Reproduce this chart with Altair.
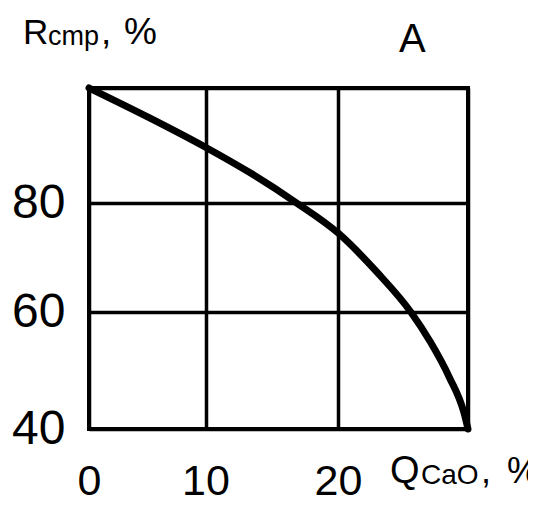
import altair as alt
import pandas as pd

# data
q_cao = [0, 5.2, 10, 13.4, 16.75, 20, 23, 25.6, 27.1, 28.55, 29.7, 30]
r_cmp = [100, 94.8, 89.7, 85.2, 80.2, 74.5, 67.3, 60, 54.9, 48.9, 42.7, 40]
x_ticks = [0, 10, 20, 30]
y_ticks = [40, 60, 80, 100]

y_title_main, y_title_sub = "R", "cmp"
x_title_main, x_title_sub = "Q", "CaO"
comma, percent = ",", "%"
panel_label = "A"

df = pd.DataFrame({"q": q_cao, "r": r_cmp})

FONT = "Liberation Sans"
W, H = 379, 341

x_scale = alt.Scale(domain=x_ticks, range=[0, 116.5, 249, W])
y_scale = alt.Scale(domain=y_ticks, range=[H, 224, 115, 0])

x_axis = alt.Axis(values=x_ticks, title=None, grid=True, gridColor="black",
                  gridWidth=3.5, gridOpacity=1, domain=False, ticks=False,
                  labelFontSize=43, labelFont=FONT, labelColor="black",
                  labelPadding=31, labelFlush=False, labelOverlap=False,
                  labelExpr="datum.value == 30 ? '' : datum.label")
y_axis = alt.Axis(values=y_ticks, title=None, grid=True, gridColor="black",
                  gridWidth=3.5, gridOpacity=1, domain=False, ticks=False,
                  labelFontSize=48, labelFont=FONT, labelColor="black",
                  labelPadding=24, labelFlush=False, labelOverlap=False,
                  labelBaseline="middle",
                  labelExpr="datum.value == 100 ? '' : datum.label")

line = alt.Chart(df).mark_line(color="black", strokeWidth=7,
                               interpolate="monotone", strokeCap="round").encode(
    x=alt.X("q:Q", scale=x_scale, axis=x_axis),
    y=alt.Y("r:Q", scale=y_scale, axis=y_axis),
)


def txt(s, x, y, size):
    return alt.Chart(alt.Data(values=[{}])).mark_text(
        text=s, font=FONT, fontSize=size, align="left",
        baseline="alphabetic", color="black").encode(
        x=alt.value(x), y=alt.value(y))


layers = [
    line,
    txt(y_title_main, -66, -44.5, 35),
    txt(y_title_sub, -41, -43, 27),
    txt(comma, 12, -44.5, 37),
    txt(percent, 35, -44.5, 37),
    txt(panel_label, 310, -36.5, 40),
    txt(x_title_main, 301, 395, 38),
    txt(x_title_sub, 332, 396, 28),
    txt(comma, 392, 395, 36),
    txt(percent, 418, 395, 36),
]

chart = alt.layer(*layers).properties(
    width=W, height=H,
    autosize=alt.AutoSizeParams(type="none"),
    padding={"left": 81, "top": 80, "right": 60, "bottom": 68},
).configure_view(stroke="black", strokeWidth=4)

chart.save("out.html", embed_options={"renderer": "svg", "actions": False})
